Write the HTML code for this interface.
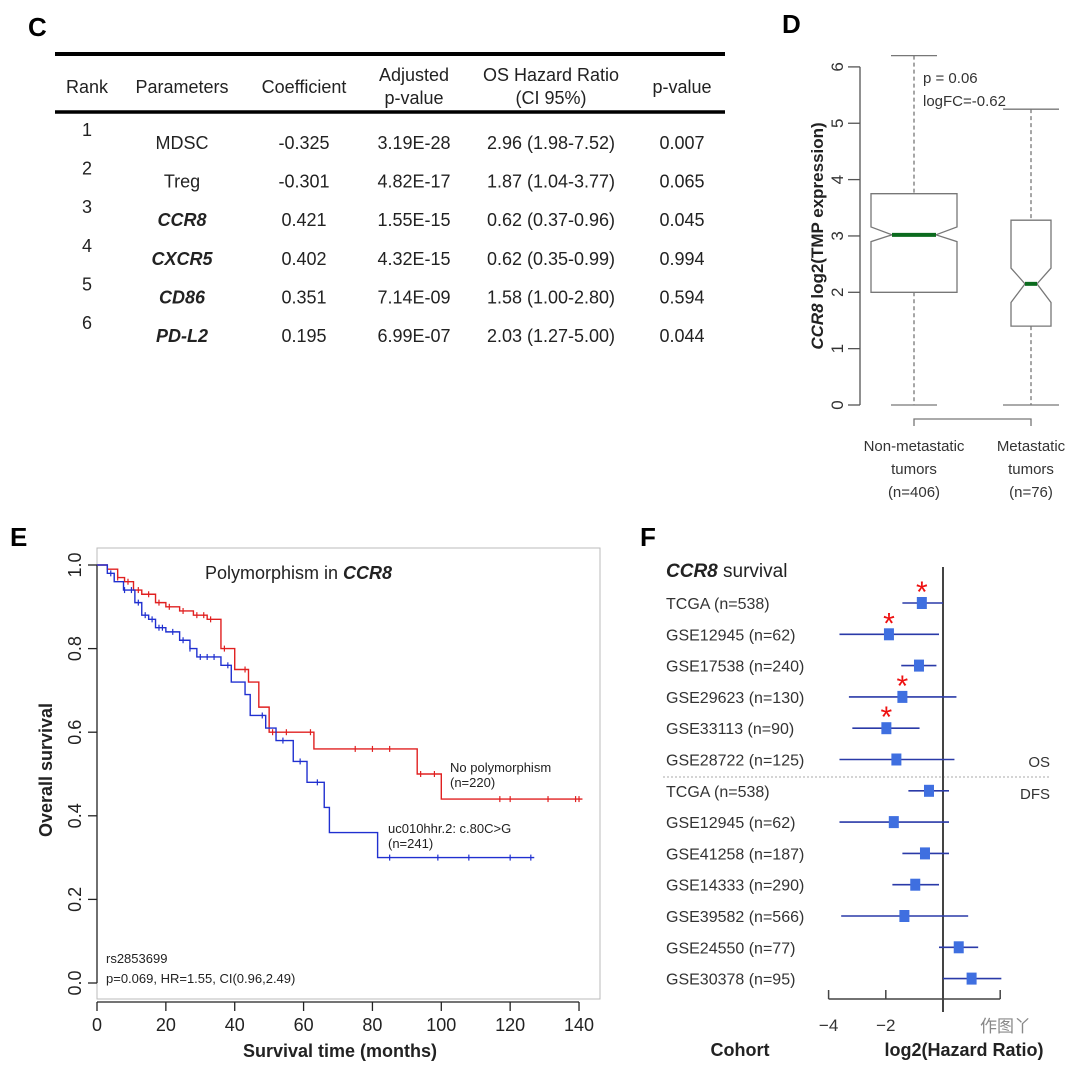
<!DOCTYPE html>
<html><head><meta charset="utf-8"><style>
body{margin:0;background:#fff}
svg{display:block;font-family:"Liberation Sans",Arial,sans-serif}
</style></head><body>
<svg id="fig" width="1080" height="1074" viewBox="0 0 1080 1074">
<g>
<text x="28" y="36" font-size="26" font-weight="bold">C</text>
<line x1="55" y1="54" x2="725" y2="54" stroke="#000" stroke-width="4"/>
<line x1="55" y1="112" x2="725" y2="112" stroke="#000" stroke-width="3.5"/>
<g font-size="18" fill="#222" text-anchor="middle">
<text x="87" y="93">Rank</text><text x="182" y="93">Parameters</text><text x="304" y="93">Coefficient</text>
<text x="414" y="81">Adjusted</text><text x="414" y="104">p-value</text>
<text x="551" y="81">OS Hazard Ratio</text><text x="551" y="104">(CI 95%)</text>
<text x="682" y="93">p-value</text>
</g>
<g id="tbody" font-size="18" fill="#222" text-anchor="middle"></g>
</g>
<g id="pd">
<text x="782" y="33" font-size="26" font-weight="bold">D</text>
</g>
<g id="pe">
<text x="10" y="546" font-size="26" font-weight="bold">E</text>
</g>
<g id="pf">
<text x="640" y="546" font-size="26" font-weight="bold">F</text>
</g>
</svg>
<script>
const NS='http://www.w3.org/2000/svg';
function mk(p,tag,a,txt){const e=document.createElementNS(NS,tag);for(const k in a)e.setAttribute(k,a[k]);if(txt!==undefined)e.textContent=txt;p.appendChild(e);return e;}

// ===== Table C =====
const tRank=['1','2','3','4','5','6'];
const tParam=['MDSC','Treg','CCR8','CXCR5','CD86','PD-L2'];
const tItalic=[false,false,true,true,true,true];
const tCoef=['-0.325','-0.301','0.421','0.402','0.351','0.195'];
const tAdj=['3.19E-28','4.82E-17','1.55E-15','4.32E-15','7.14E-09','6.99E-07'];
const tHR=['2.96 (1.98-7.52)','1.87 (1.04-3.77)','0.62 (0.37-0.96)','0.62 (0.35-0.99)','1.58 (1.00-2.80)','2.03 (1.27-5.00)'];
const tP=['0.007','0.065','0.045','0.994','0.594','0.044'];
const tb=document.getElementById('tbody');
tRank.forEach((r,i)=>{
  const y=149+38.6*i;
  const g=mk(tb,'g',{});
  
  
  mk(g,'text',{x:87,y:y-13},r);
  const pe=mk(g,'text',{x:182,y:y},tParam[i]);
  if(tItalic[i]){pe.setAttribute('font-weight','bold');pe.setAttribute('font-style','italic');}
  mk(g,'text',{x:304,y:y},tCoef[i]);
  mk(g,'text',{x:414,y:y},tAdj[i]);
  mk(g,'text',{x:551,y:y},tHR[i]);
  mk(g,'text',{x:682,y:y},tP[i]);
});

// ===== Box plot D =====
const bGroups=['Non-metastatic','Metastatic'];
const bMin=[0,0];
const bQ1=[2.0,1.4];
const bMed=[3.02,2.15];
const bQ3=[3.75,3.28];
const bMax=[6.2,5.25];
const bNotchLo=[2.9,1.82];
const bNotchHi=[3.16,2.43];
const bTicks=[0,1,2,3,4,5,6];
const pd=document.getElementById('pd');
const yD=v=>405-v*56.35;
const xD=[914,1031], hwD=[43,20], notchD=[22,6], capD=[23,28];
mk(pd,'line',{x1:860,y1:yD(0),x2:860,y2:yD(6),stroke:'#555','stroke-width':1.3});
bTicks.forEach(t=>{
  const l=mk(pd,'line',{x1:848,y1:yD(t),x2:860,y2:yD(t),stroke:'#555','stroke-width':1.3});
  
  const tx=mk(pd,'text',{x:0,y:0,'font-size':17,fill:'#333','text-anchor':'middle',transform:`translate(843,${yD(t)}) rotate(-90)`},String(t));
  
});
bGroups.forEach((gname,i)=>{
  const g=mk(pd,'g',{fill:'none',stroke:'#777','stroke-width':1.3});
  
  
  const c=xD[i],w=hwD[i],n=notchD[i];
  mk(g,'line',{x1:c,y1:yD(bMax[i]),x2:c,y2:yD(bQ3[i]),'stroke-dasharray':'4,3'});
  mk(g,'line',{x1:c,y1:yD(bQ1[i]),x2:c,y2:yD(bMin[i]),'stroke-dasharray':'4,3'});
  mk(g,'line',{x1:c-capD[i],y1:yD(bMax[i]),x2:c+capD[i],y2:yD(bMax[i])});
  mk(g,'line',{x1:c-capD[i],y1:yD(bMin[i]),x2:c+capD[i],y2:yD(bMin[i])});
  const pts=[[c-w,yD(bQ3[i])],[c+w,yD(bQ3[i])],[c+w,yD(bNotchHi[i])],[c+n,yD(bMed[i])],[c+w,yD(bNotchLo[i])],[c+w,yD(bQ1[i])],[c-w,yD(bQ1[i])],[c-w,yD(bNotchLo[i])],[c-n,yD(bMed[i])],[c-w,yD(bNotchHi[i])]];
  mk(g,'polygon',{points:pts.map(p=>p.join(',')).join(' '),fill:'#fff'});
  mk(g,'line',{x1:c-n,y1:yD(bMed[i]),x2:c+n,y2:yD(bMed[i]),stroke:'#0b6b1e','stroke-width':4});
});
mk(pd,'path',{d:`M${xD[0]},426 V419 H${xD[1]} V426`,fill:'none',stroke:'#777','stroke-width':1.3});
[['Non-metastatic','tumors','(n=406)'],['Metastatic','tumors','(n=76)']].forEach((ls,i)=>{
  ls.forEach((s,j)=>{const t=mk(pd,'text',{x:xD[i],y:451+23*j,'font-size':15,fill:'#333','text-anchor':'middle'},s);
  });
});
mk(pd,'text',{x:923,y:83,'font-size':15,fill:'#333'},'p = 0.06');
mk(pd,'text',{x:923,y:106,'font-size':15,fill:'#333'},'logFC=-0.62');
const yt=mk(pd,'text',{x:0,y:0,'font-size':17,'font-weight':'bold',fill:'#222','text-anchor':'middle',transform:'translate(823,236) rotate(-90)'});

mk(yt,'tspan',{'font-style':'italic'},'CCR8');mk(yt,'tspan',{},' log2(TMP expression)');

// ===== KM E =====
const redT=[0,3,6,8,10.6,13,17,20,24,28,32,36,40,44,47,50,63,93,100,141];
const redS=[1.0,0.99,0.97,0.96,0.94,0.93,0.91,0.90,0.89,0.88,0.87,0.80,0.75,0.72,0.66,0.60,0.56,0.50,0.44,0.44];
const bluT=[0,3,5,7.7,11,13,15,17,20,24,27,29,36,39,43,44.5,49,52,57,61,66,67.5,81.5,127];
const bluS=[1.0,0.98,0.96,0.94,0.91,0.88,0.87,0.85,0.84,0.82,0.80,0.78,0.76,0.72,0.69,0.64,0.61,0.58,0.53,0.48,0.42,0.36,0.30,0.30];
const redCens=[6,9,12,15,18,21,25,29,31,33,37,43,51,55,62,75,80,85,94,98,117,120,131,139,140];
const bluCens=[4,8,10,12,14,16,18,19,22,25,27,30,32,34,38,48,54,59,64,85,99,108,120,126];
const kmXT=[0,20,40,60,80,100,120,140];
const kmYT=[0.0,0.2,0.4,0.6,0.8,1.0];
const pe=document.getElementById('pe');
const xE=t=>97+t*3.443, yE=s=>983-s*418;
mk(pe,'rect',{x:97,y:548,width:503,height:451,fill:'none',stroke:'#bbb','stroke-width':1});
mk(pe,'line',{x1:97,y1:yE(0),x2:97,y2:yE(1),stroke:'#222','stroke-width':1.3});
kmYT.forEach(v=>{
  mk(pe,'line',{x1:88,y1:yE(v),x2:97,y2:yE(v),stroke:'#222','stroke-width':1.3});
  const t=mk(pe,'text',{x:0,y:0,'font-size':18,fill:'#222','text-anchor':'middle',transform:`translate(81,${yE(v)}) rotate(-90)`},v.toFixed(1));
  
});
mk(pe,'line',{x1:xE(0),y1:1002,x2:xE(140),y2:1002,stroke:'#222','stroke-width':1.3});
kmXT.forEach(v=>{
  mk(pe,'line',{x1:xE(v),y1:1002,x2:xE(v),y2:1011,stroke:'#222','stroke-width':1.3});
  const t=mk(pe,'text',{x:xE(v),y:1031,'font-size':18,fill:'#222','text-anchor':'middle'},String(v));
  
});
function stepPath(T,S){let d=`M${xE(T[0])},${yE(S[0])}`;for(let i=1;i<T.length;i++){d+=` H${xE(T[i])} V${yE(S[i])}`;}return d;}
function survAt(T,S,t){let s=S[0];for(let i=0;i<T.length;i++){if(T[i]<=t)s=S[i];}return s;}
[[redT,redS,redCens,'#e02020','red'],[bluT,bluS,bluCens,'#2030d0','blue']].forEach(([T,S,C,col,nm])=>{
  const p=mk(pe,'path',{d:stepPath(T,S),fill:'none',stroke:col,'stroke-width':1.4});
  
  C.forEach(t=>{const y=yE(survAt(T,S,t));const l=mk(pe,'line',{x1:xE(t),y1:y-3,x2:xE(t),y2:y+3,stroke:col,'stroke-width':1.2});
  });
});
const kt=mk(pe,'text',{x:205,y:579,'font-size':18,fill:'#222'});

mk(kt,'tspan',{},'Polymorphism in ');mk(kt,'tspan',{'font-weight':'bold','font-style':'italic'},'CCR8');
mk(pe,'text',{x:450,y:772,'font-size':13,fill:'#222'},'No polymorphism');
mk(pe,'text',{x:450,y:787,'font-size':13,fill:'#222'},'(n=220)');
mk(pe,'text',{x:388,y:833,'font-size':13,fill:'#222'},'uc010hhr.2: c.80C>G');
mk(pe,'text',{x:388,y:848,'font-size':13,fill:'#222'},'(n=241)');
mk(pe,'text',{x:106,y:963,'font-size':13,fill:'#222'},'rs2853699');
mk(pe,'text',{x:106,y:983,'font-size':13,fill:'#222'},'p=0.069, HR=1.55, CI(0.96,2.49)');
const ey=mk(pe,'text',{x:0,y:0,'font-size':18,'font-weight':'bold',fill:'#222','text-anchor':'middle',transform:'translate(52,770) rotate(-90)'},'Overall survival');

const ex=mk(pe,'text',{x:340,y:1057,'font-size':18,'font-weight':'bold',fill:'#222','text-anchor':'middle'},'Survival time (months)');


// ===== Forest F =====
const fLabels=['TCGA (n=538)','GSE12945 (n=62)','GSE17538 (n=240)','GSE29623 (n=130)','GSE33113 (n=90)','GSE28722 (n=125)','TCGA (n=538)','GSE12945 (n=62)','GSE41258 (n=187)','GSE14333 (n=290)','GSE39582 (n=566)','GSE24550 (n=77)','GSE30378 (n=95)'];
const fEst=[-0.74,-1.89,-0.84,-1.42,-1.98,-1.63,-0.49,-1.72,-0.63,-0.97,-1.35,0.55,1.0];
const fLo=[-1.42,-3.62,-1.46,-3.29,-3.17,-3.62,-1.21,-3.62,-1.42,-1.77,-3.56,-0.14,0];
const fHi=[0,-0.14,-0.23,0.47,-0.82,0.40,0.21,0.21,0.21,-0.14,0.88,1.23,2.04];
const fSig=[true,true,false,true,true,false,false,false,false,false,false,false,false];
const fTicks=[-4,-2,0,2];
const pf=document.getElementById('pf');
const xF=v=>943+v*28.6, yF=i=>603+i*31.3;
const ft=mk(pf,'text',{x:666,y:577,'font-size':19,fill:'#222'});

mk(ft,'tspan',{'font-weight':'bold','font-style':'italic'},'CCR8');mk(ft,'tspan',{},' survival');
mk(pf,'line',{x1:663,y1:777,x2:1050,y2:777,stroke:'#aaa','stroke-width':1,'stroke-dasharray':'2,2'});
mk(pf,'line',{x1:xF(0),y1:567,x2:xF(0),y2:1012,stroke:'#444','stroke-width':2});
fLabels.forEach((lab,i)=>{
  const y=yF(i);
  const t=mk(pf,'text',{x:666,y:y+6,'font-size':16,fill:'#333'},lab);
  
  const l=mk(pf,'line',{x1:xF(fLo[i]),y1:y,x2:xF(fHi[i]),y2:y,stroke:'#2a3aa8','stroke-width':1.6});
  
  const r=mk(pf,'rect',{x:xF(fEst[i])-5,y:y-6,width:10,height:12,fill:'#3f6fe0'});
  
  if(fSig[i]){const s=mk(pf,'text',{x:xF(fEst[i]),y:y-1,'font-size':30,fill:'#ee1111','text-anchor':'middle'},'*');
  }
});
mk(pf,'text',{x:1050,y:767,'font-size':15,fill:'#333','text-anchor':'end'},'OS');
mk(pf,'text',{x:1050,y:799,'font-size':15,fill:'#333','text-anchor':'end'},'DFS');
mk(pf,'line',{x1:xF(-4),y1:999,x2:xF(2),y2:999,stroke:'#444','stroke-width':1.5});
fTicks.forEach(v=>{
  mk(pf,'line',{x1:xF(v),y1:999,x2:xF(v),y2:990,stroke:'#444','stroke-width':1.5});
  if(v!==0&&v!==2){const t=mk(pf,'text',{x:xF(v),y:1031,'font-size':17,fill:'#333','text-anchor':'middle'},(v<0?'\u2212':'')+Math.abs(v));
  }
});
mk(pf,'text',{x:980,y:1032,'font-size':17,fill:'#888'},'\u4f5c\u56fe\u4e2b').setAttribute('font-family','"Liberation Sans","Noto Sans CJK SC",sans-serif');
const fc=mk(pf,'text',{x:740,y:1056,'font-size':18,'font-weight':'bold',fill:'#222','text-anchor':'middle'},'Cohort');

const fx=mk(pf,'text',{x:964,y:1056,'font-size':18,'font-weight':'bold',fill:'#222','text-anchor':'middle'},'log2(Hazard Ratio)');

</script>
</body></html>
